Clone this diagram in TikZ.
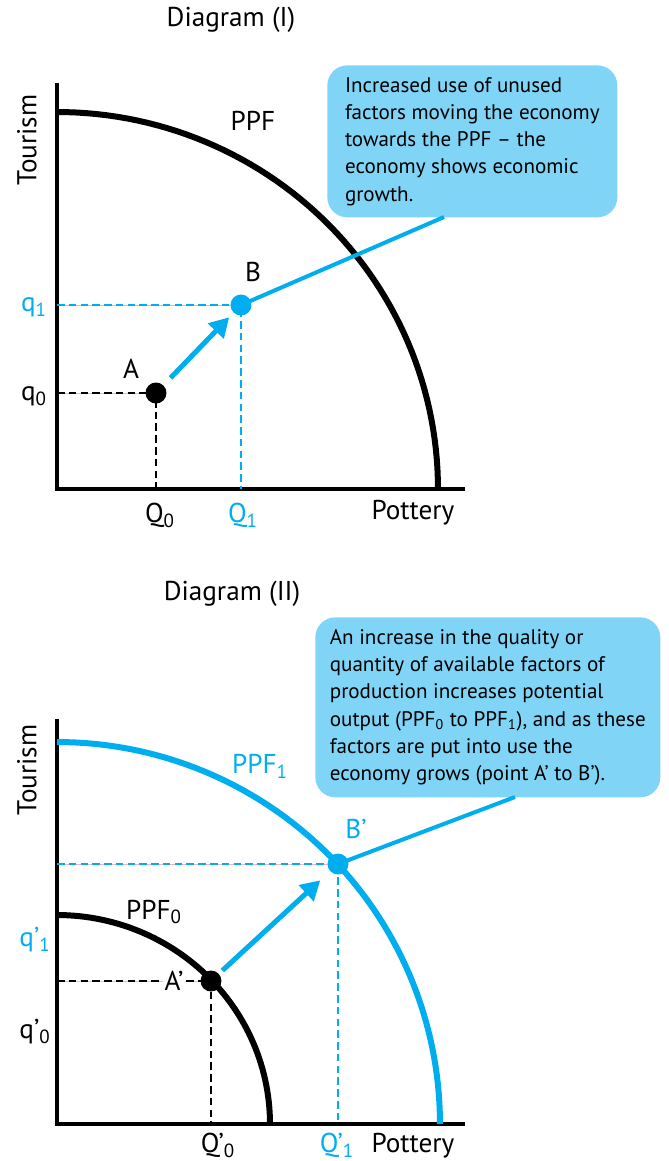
\documentclass[tikz,border=0pt]{standalone}
\usepackage{fontspec}
\setmainfont{PT Sans}
\usepackage{tikz}
\usetikzlibrary{arrows.meta}
\definecolor{ink}{HTML}{000000}
\definecolor{sky}{HTML}{00AEEF}
\definecolor{note}{HTML}{80D5F6}
\definecolor{blush}{HTML}{F2B8BC}

\begin{document}
\begin{tikzpicture}[x=0.02cm,y=-0.02cm,font=\fontsize{15.5}{18}\selectfont,
  axis/.style={draw=ink,line width=0.08cm},
  ppf/.style={draw=ink,line width=0.12cm},
  dot/.style={circle,inner sep=0pt,minimum size=0.42cm},
  guide/.style={draw=ink,dash pattern=on 4.3pt off 2.4pt,line width=1.3pt},
  hair/.style={draw=blush,line width=0.3pt},
  move/.style={-{Triangle[length=11pt,width=12pt]},draw=sky,line width=0.1cm},
  lead/.style={draw=sky,line width=0.08cm},
  callout/.style={fill=note,rounded corners=0.4cm,anchor=north west,align=left,
    font=\fontsize{12}{15.5}\selectfont}]
\useasboundingbox (0,0) rectangle (669,1161);
\node (title1) at (231,20) {Diagram (I)};
\coordinate (o1) at (57,489);
\coordinate (a) at (156,393);
\coordinate (b) at (241,305);
\draw[axis] (57,83) -- (o1) -- (465,489);
\draw[ppf] plot[variable=\t,domain=0:90,samples=60] ({57+381*cos(\t)},{489-377*sin(\t)});
\node[rotate=90] (tour1) at (27,140) {Tourism};
\node (ppflab) at (253,121) {PPF};
\draw[hair] (o1 |- b) -- (b);
\draw[guide,draw=sky] (o1 |- b) -- (b) -- (b |- o1);
\draw[hair] (o1 |- a) -- (a);
\draw[guide] (o1 |- a) -- (a) -- (a |- o1);
\node[callout,inner xsep=0.28cm,minimum width=5.8cm,minimum height=3.04cm] (note1) at (327,65)
  {Increased use of unused\\factors moving the economy\\towards the PPF – the\\economy shows economic\\growth.};
\coordinate (tip1) at (444,217);
\draw[lead] (b) -- (tip1);
\draw[move,shorten <=0.42cm,shorten >=0.34cm] (a) -- (b);
\node[dot,fill=ink] (A) at (a) {};
\node[dot,fill=sky] (B) at (b) {};
\node (labA) at (131,369) {A};
\node (labB) at (253,272) {B};
\node[text=sky] (q1) at (34,307) {q\textsubscript{1}};
\node (q0) at (34,396) {q\textsubscript{0}};
\node (Q0) at (160,515) {Q\textsubscript{0}};
\node[text=sky] (Q1) at (243,515) {Q\textsubscript{1}};
\node (pot1) at (413,513) {Pottery};

\node (title2) at (232,594) {Diagram (II)};
\coordinate (o2) at (57,1124);
\coordinate (a2) at (211,981);
\coordinate (b2) at (338,864);
\draw[axis] (57,719) -- (o2) -- (465,1124);
\draw[ppf,draw=sky] plot[variable=\t,domain=0:90,samples=60] ({57+383*cos(\t)},{1124-382*sin(\t)});
\draw[ppf] plot[variable=\t,domain=0:90,samples=60] ({57+213*cos(\t)},{1124-209*sin(\t)});
\node[rotate=90] (tour2) at (27,770) {Tourism};
\node[text=sky] (ppf1lab) at (260,766) {PPF\textsubscript{1}};
\node (ppf0lab) at (154,912) {PPF\textsubscript{0}};
\draw[hair] (o2 |- b2) -- (b2);
\draw[guide,draw=sky] (o2 |- b2) -- (b2) -- (b2 |- o2);
\draw[hair] (o2 |- a2) -- (a2);
\draw[guide] (o2 |- a2) -- (a2) -- (a2 |- o2);
\node[fill=white,inner sep=1pt] (labA2) at (174,981) {A’};
\node[callout,inner xsep=0.19cm,minimum width=6.9cm,minimum height=3.6cm] (note2) at (315,617)
  {An increase in the quality or\\quantity of available factors of\\production increases potential\\output (PPF\textsubscript{0} to PPF\textsubscript{1}), and as these\\factors are put into use the\\economy grows (point A’ to B’).};
\coordinate (tip2) at (515,797);
\draw[lead] (b2) -- (tip2);
\draw[move,shorten <=0.31cm,shorten >=0.48cm] (a2) -- (b2);
\node[dot,fill=ink] (A2) at (a2) {};
\node[dot,fill=sky] (B2) at (b2) {};
\node[text=sky] (labB2) at (356,829) {B’};
\node[text=sky] (q1b) at (35,940) {q’\textsubscript{1}};
\node (q0b) at (35,1032) {q’\textsubscript{0}};
\node (Q0b) at (218,1145) {Q’\textsubscript{0}};
\node[text=sky] (Q1b) at (337,1145) {Q’\textsubscript{1}};
\node (pot2) at (413,1146) {Pottery};
\end{tikzpicture}
\end{document}
